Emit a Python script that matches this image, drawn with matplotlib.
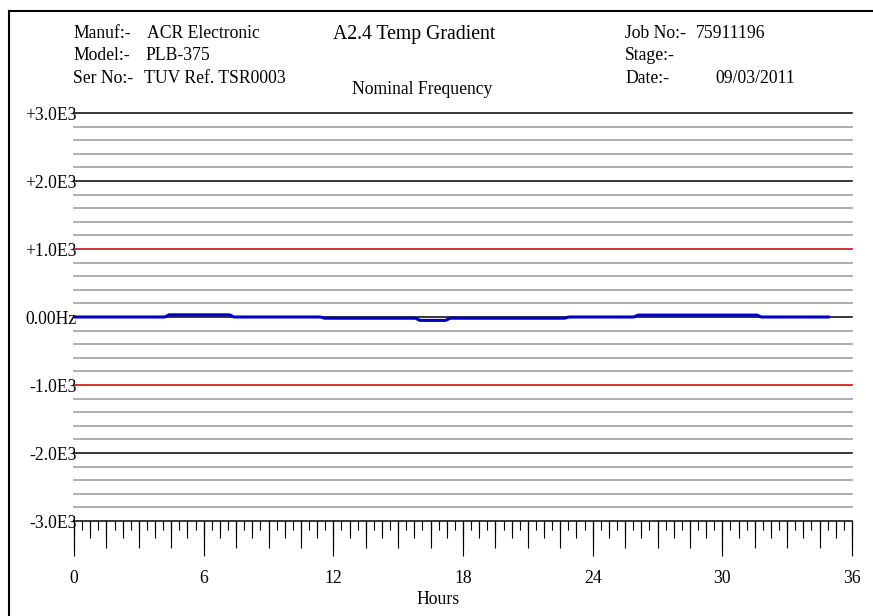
import numpy as np
import matplotlib
matplotlib.use("Agg")
import matplotlib.pyplot as plt
from matplotlib.lines import Line2D

plt.rcParams['font.family'] = ['Liberation Serif', 'DejaVu Serif']

# frequency deviation readings over the temperature gradient run
hours = [0, 4.2, 4.4, 7.2, 7.4, 11.4, 11.6, 15.8, 16.0, 17.2, 17.4, 22.7, 22.9, 25.9, 26.1, 31.6, 31.8, 34.9]
freq_hz = [0, 0, 32, 32, 0, 0, -18, -18, -50, -50, -18, -18, 0, 0, 28, 28, 0, 0]

y_ticks = [3000, 2000, 1000, 0, -1000, -2000, -3000]
y_labels = ['+3.0E3', '+2.0E3', '+1.0E3', '0.00Hz', '-1.0E3', '-2.0E3', '-3.0E3']
x_ticks = [0, 6, 12, 18, 24, 30, 36]

header_left = [('Manuf:-', 'ACR Electronic', 147), ('Model:-', 'PLB-375', 145),
               ('Ser No:-', 'TUV Ref. TSR0003', 144)]
header_right = [('Job No:-', '75911196', 696), ('Stage:-', '', 696), ('Date:-', '09/03/2011', 715)]

W, H = 873, 616
fig = plt.figure(figsize=(W / 100, H / 100), dpi=100)


def fx(x):
    return x / W


def fy(y):
    return 1 - y / H


# page frame
fig.add_artist(Line2D([fx(9), fx(W + 5)], [fy(11), fy(11)], color='black', lw=1.5))
fig.add_artist(Line2D([fx(9), fx(9)], [fy(11), fy(H + 5)], color='black', lw=1.5))

# header block
rows = [38, 60, 83]
for (lab, val, xv), yb in zip(header_left, rows):
    fig.text(fx(73), fy(yb), lab, fontsize=12.7, va='baseline')
    fig.text(fx(xv), fy(yb), val, fontsize=12.7, va='baseline')
for (lab, val, xv), yb in zip(header_right, rows):
    fig.text(fx(625), fy(yb), lab, fontsize=12.7, va='baseline')
    fig.text(fx(xv), fy(yb), val, fontsize=12.7, va='baseline')
fig.text(fx(414), fy(39), 'A2.4 Temp Gradient', fontsize=14.2, ha='center', va='baseline')
fig.text(fx(422), fy(94), 'Nominal Frequency', fontsize=12.7, ha='center', va='baseline')

ax = fig.add_axes([fx(74), fy(521), 778 / W, 408 / H])
ax.set_xlim(0, 36)
ax.set_ylim(-3000, 3000)
for s in ax.spines.values():
    s.set_visible(False)

# horizontal scale lines
for v in range(-3000, 3001, 200):
    if v % 1000 != 0:
        ax.axhline(v, color='#a0a0a0', lw=1.2, zorder=1, clip_on=False)
    elif abs(v) == 1000:
        ax.axhline(v, color='#cc1010', lw=1.2, zorder=1, clip_on=False)
    else:
        ax.axhline(v, color='black', lw=1.1, zorder=1, clip_on=False)

ax.plot(hours, freq_hz, color='#0000c8', lw=2.2, zorder=3)

ax.set_yticks(y_ticks)
ax.set_yticklabels(y_labels, fontsize=12.7)
ax.tick_params(axis='y', length=0, pad=-2)

ax.set_xticks(x_ticks)
ax.set_xticklabels([str(t) for t in x_ticks], fontsize=12.7)
ax.set_xticks(np.arange(0, 36.01, 0.375), minor=True)
ax.tick_params(axis='x', which='major', direction='out', length=25, width=0.8, pad=10)
ax.tick_params(axis='x', which='minor', direction='out', length=6.5, width=0.8)

# intermediate tick lengths on the hour scale
for step, ln in [(0.75, 12.2), (1.5, 19.4)]:
    sec = ax.secondary_xaxis('bottom')
    sec.set_xticks(np.arange(0, 36.01, step))
    sec.set_xticklabels([])
    sec.tick_params(direction='out', length=ln, width=0.8)
    sec.spines['bottom'].set_visible(False)

ax.set_xlabel('Hours', fontsize=12.7)
ax.xaxis.set_label_coords(0.468, -0.172)

fig.savefig('out.png', dpi=100)
